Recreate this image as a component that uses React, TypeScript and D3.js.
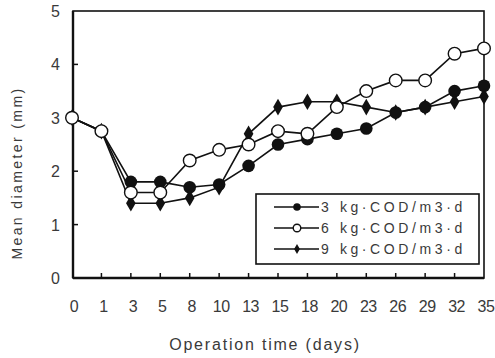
import React, { useEffect, useRef } from "react";
import * as d3 from "d3";

const days = ["0", "1", "3", "5", "8", "10", "13", "15", "18", "20", "23", "26", "29", "32", "35"];
const yTicks = [0, 1, 2, 3, 4, 5];
const load3 = [3.0, 2.75, 1.8, 1.8, 1.7, 1.75, 2.1, 2.5, 2.6, 2.7, 2.8, 3.1, 3.2, 3.5, 3.6];
const load6 = [3.0, 2.75, 1.6, 1.6, 2.2, 2.4, 2.5, 2.75, 2.7, 3.2, 3.5, 3.7, 3.7, 4.2, 4.3];
const load9 = [3.0, 2.75, 1.4, 1.4, 1.5, 1.7, 2.7, 3.2, 3.3, 3.3, 3.2, 3.1, 3.2, 3.3, 3.4];
const labels = ["3 kg·COD/m3·d", "6 kg·COD/m3·d", "9 kg·COD/m3·d"];

const W = 495;
const H = 358;
const font = "'Liberation Sans', Arial, sans-serif";
const textColor = "#3a3a3a";

export default function App() {
  const svgRef = useRef<SVGSVGElement>(null);

  useEffect(() => {
    const svg = d3.select(svgRef.current);
    svg.selectAll("*").remove();

    const left = 73, right = 484, top = 11, bottom = 278;
    const x = d3.scalePoint<string>().domain(days).range([left - 1, right]);
    const y = d3.scaleLinear().domain([0, 5]).range([bottom, top]);

    // frame
    svg.append("rect")
      .attr("x", left).attr("y", top)
      .attr("width", right - left).attr("height", bottom - top)
      .attr("fill", "none").attr("stroke", "#111").attr("stroke-width", 1.6);
    svg.append("line")
      .attr("x1", left).attr("x2", left).attr("y1", top).attr("y2", bottom)
      .attr("stroke", "#111").attr("stroke-width", 2.4);
    svg.append("line")
      .attr("x1", left).attr("x2", right).attr("y1", bottom).attr("y2", bottom)
      .attr("stroke", "#111").attr("stroke-width", 2.4);

    // y ticks (inward)
    yTicks.forEach((t) => {
      if (t > 0 && t < 5) {
        svg.append("line")
          .attr("x1", left).attr("x2", left + 5)
          .attr("y1", y(t)).attr("y2", y(t))
          .attr("stroke", "#111").attr("stroke-width", 1.5);
      }
      svg.append("text")
        .attr("x", 60).attr("y", y(t) + 6)
        .attr("text-anchor", "end")
        .attr("font-family", font).attr("font-size", 16)
        .attr("fill", textColor)
        .text(t);
    });

    // x ticks (inward)
    days.forEach((d, i) => {
      if (i > 0 && i < days.length - 1) {
        svg.append("line")
          .attr("x1", x(d)!).attr("x2", x(d)!)
          .attr("y1", bottom).attr("y2", bottom - 5)
          .attr("stroke", "#111").attr("stroke-width", 1.5);
      }
      svg.append("text")
        .attr("x", x(d)! + 2).attr("y", 312)
        .attr("text-anchor", "middle")
        .attr("font-family", font).attr("font-size", 16)
        .attr("letter-spacing", -0.5)
        .attr("fill", textColor)
        .text(d);
    });

    // axis titles
    svg.append("text")
      .attr("x", 265).attr("y", 350)
      .attr("text-anchor", "middle")
      .attr("font-family", font).attr("font-size", 16)
      .attr("letter-spacing", 1.8)
      .attr("fill", textColor)
      .text("Operation time (days)");
    svg.append("text")
      .attr("transform", "translate(22,173) rotate(-90)")
      .attr("text-anchor", "middle")
      .attr("font-family", font).attr("font-size", 14)
      .attr("letter-spacing", 2.4)
      .attr("fill", textColor)
      .text("Mean diameter (mm)");

    const line = d3.line<number>()
      .x((_, i) => x(days[i])!)
      .y((v) => y(v));

    const series = [
      { data: load3, kind: "big" },
      { data: load9, kind: "small" },
      { data: load6, kind: "open" },
    ];

    series.forEach((s) => {
      svg.append("path")
        .datum(s.data)
        .attr("d", line)
        .attr("fill", "none")
        .attr("stroke", "#111")
        .attr("stroke-width", 1.6);
    });

    const drawMarker = (g: any, kind: string, cx: number, cy: number, scale = 1) => {
      if (kind === "big") {
        g.append("circle").attr("cx", cx).attr("cy", cy).attr("r", 6.3 * scale)
          .attr("fill", "#111");
      } else if (kind === "open") {
        g.append("circle").attr("cx", cx).attr("cy", cy).attr("r", 6.3 * scale)
          .attr("fill", "#fff").attr("stroke", "#111").attr("stroke-width", 1.4);
      } else {
        g.append("path")
          .attr("d", d3.symbol().type(d3.symbolDiamond).size(80 * scale * scale)())
          .attr("transform", `translate(${cx},${cy})`)
          .attr("fill", "#111");
      }
    };

    series.forEach((s) => {
      s.data.forEach((v, i) => drawMarker(svg, s.kind, x(days[i])!, y(v)));
    });

    // legend
    const lg = svg.append("g");
    lg.append("rect")
      .attr("x", 256).attr("y", 194).attr("width", 223).attr("height", 70)
      .attr("fill", "#fff").attr("stroke", "#111").attr("stroke-width", 1.6);
    const legendKinds = ["big", "open", "small"];
    labels.forEach((lab, i) => {
      const ly = 207 + i * 21;
      lg.append("line")
        .attr("x1", 274).attr("x2", 319).attr("y1", ly).attr("y2", ly)
        .attr("stroke", "#111").attr("stroke-width", 1.6);
      drawMarker(lg, legendKinds[i], 297, ly, 0.6);
      lg.append("text")
        .attr("x", 321).attr("y", ly + 5)
        .attr("font-family", font).attr("font-size", 14)
        .attr("letter-spacing", 3.6)
        .attr("fill", textColor)
        .text(lab);
    });
  }, []);

  return (
    <svg
      ref={svgRef}
      width={W}
      height={H}
      style={{ position: "absolute", left: 0, top: 0, background: "#fff" }}
    />
  );
}
